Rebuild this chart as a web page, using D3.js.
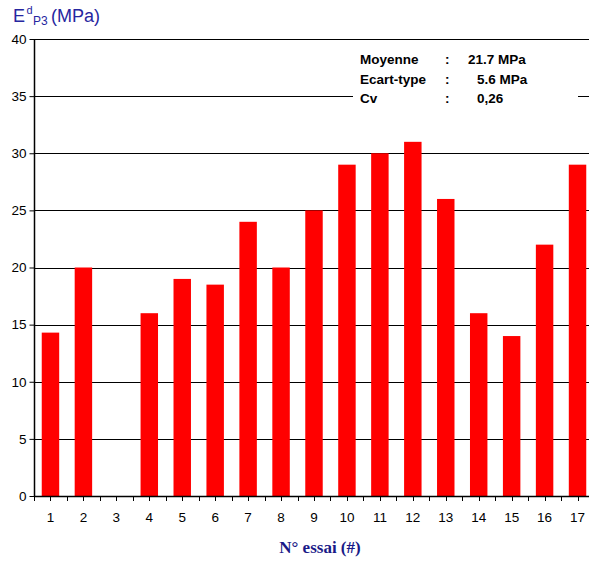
<!DOCTYPE html>
<html>
<head>
<meta charset="utf-8">
<script src="https://cdn.jsdelivr.net/npm/d3@7/dist/d3.min.js"></script>
<style>
  html, body { margin: 0; padding: 0; background: #fff; }
  svg { display: block; font-family: "Liberation Sans", Arial, sans-serif; }
  .serif { font-family: "Liberation Serif", "Times New Roman", serif; }
</style>
</head>
<body>
<svg id="chart" width="589" height="563"></svg>
<script>
const categories = ["1","2","3","4","5","6","7","8","9","10","11","12","13","14","15","16","17"];
const values = [14.3, 20, null, 16, 19, 18.5, 24, 20, 25, 29, 30, 31, 26, 16, 14, 22, 29];
const yTicks = [0, 5, 10, 15, 20, 25, 30, 35, 40];
const statLabels = ["Moyenne", "Ecart-type", "Cv"];
const statValues = ["21.7 MPa", "5.6 MPa", "0,26"];

(function () {
const svg = d3.select("#chart");
const pLeft = 34, pRight = 594, pTop = 39, pBottom = 496;

const x = d3.scaleBand().domain(categories).range([pLeft, pRight]).paddingInner(0).paddingOuter(0);
const y = d3.scaleLinear().domain([0, 40]).range([pBottom, pTop]);

// grid lines
svg.append("g").selectAll("line").data(yTicks.filter(d => d > 0)).join("line")
  .attr("x1", pLeft).attr("x2", 589)
  .attr("y1", d => Math.round(y(d)) + 0.5).attr("y2", d => Math.round(y(d)) + 0.5)
  .attr("stroke", "#000").attr("stroke-width", 1);

// bars
const bw = x.bandwidth() * 0.53;
svg.append("g").selectAll("rect").data(categories.map((c, i) => ({c, v: values[i]})).filter(d => d.v != null)).join("rect")
  .attr("x", d => x(d.c) + (x.bandwidth() - bw) / 2)
  .attr("width", bw)
  .attr("y", d => y(d.v))
  .attr("height", d => pBottom - y(d.v))
  .attr("fill", "#ff0000");

// y axis
const yAxis = d3.axisLeft(y).tickValues(yTicks).tickSize(5).tickPadding(3);
const gy = svg.append("g").attr("transform", `translate(${pLeft + 0.5},0)`).call(yAxis);
gy.select(".domain").attr("d", `M0,${pTop}V${pBottom}`).attr("stroke", "#000").attr("stroke-width", 1.5);
gy.selectAll(".tick line").attr("stroke", "#000");
gy.selectAll(".tick text").attr("font-size", 13.5).attr("fill", "#000")
  .attr("font-family", "Liberation Sans, Arial, sans-serif");

// x axis
const xAxis = d3.axisBottom(x).tickSize(0).tickPadding(0);
const gx = svg.append("g").attr("transform", `translate(0,${pBottom + 0.5})`).call(xAxis);
gx.select(".domain").attr("d", `M${pLeft},0H589`).attr("stroke", "#000").attr("stroke-width", 1.5);
gx.selectAll(".tick text").attr("font-size", 13.5).attr("fill", "#000").attr("dy", 0).attr("y", 25)
  .attr("font-family", "Liberation Sans, Arial, sans-serif");
// x tick marks at band edges and centres
const tickPos = [];
categories.forEach(c => { tickPos.push(x(c)); tickPos.push(x(c) + x.bandwidth() / 2); });
svg.append("g").selectAll("line").data(tickPos).join("line")
  .attr("x1", d => Math.round(d) + 0.5).attr("x2", d => Math.round(d) + 0.5)
  .attr("y1", pBottom).attr("y2", pBottom + 5)
  .attr("stroke", "#000").attr("stroke-width", 1);

// stats box
svg.append("rect").attr("x", 353).attr("y", 46).attr("width", 225).attr("height", 66).attr("fill", "#fff");
const st = svg.append("g").attr("font-weight", "bold").attr("font-size", 13.5).attr("fill", "#000");
statLabels.forEach((l, i) => {
  const by = 64 + i * 19.5;
  st.append("text").attr("x", 360).attr("y", by).text(l);
  st.append("text").attr("x", 445).attr("y", by).text(":");
  st.append("text").attr("x", i === 0 ? 468 : 477).attr("y", by).text(statValues[i]);
});

// y title
const t = svg.append("text").attr("y", 22).attr("fill", "#2626a0").attr("font-size", 18);
t.append("tspan").attr("x", 13).attr("y", 22).text("E");
t.append("tspan").attr("x", 26.5).attr("y", 14).attr("font-size", 11).text("d");
t.append("tspan").attr("x", 33).attr("y", 25).attr("font-size", 12).text("P3");
t.append("tspan").attr("x", 51).attr("y", 22).text("(MPa)");

// x title
svg.append("text").attr("class", "serif").attr("x", 320).attr("y", 553).attr("text-anchor", "middle")
  .attr("font-weight", "bold")
  .attr("font-size", 17).attr("fill", "#1a1a88").text("N° essai (#)");
})();
</script>
</body>
</html>
